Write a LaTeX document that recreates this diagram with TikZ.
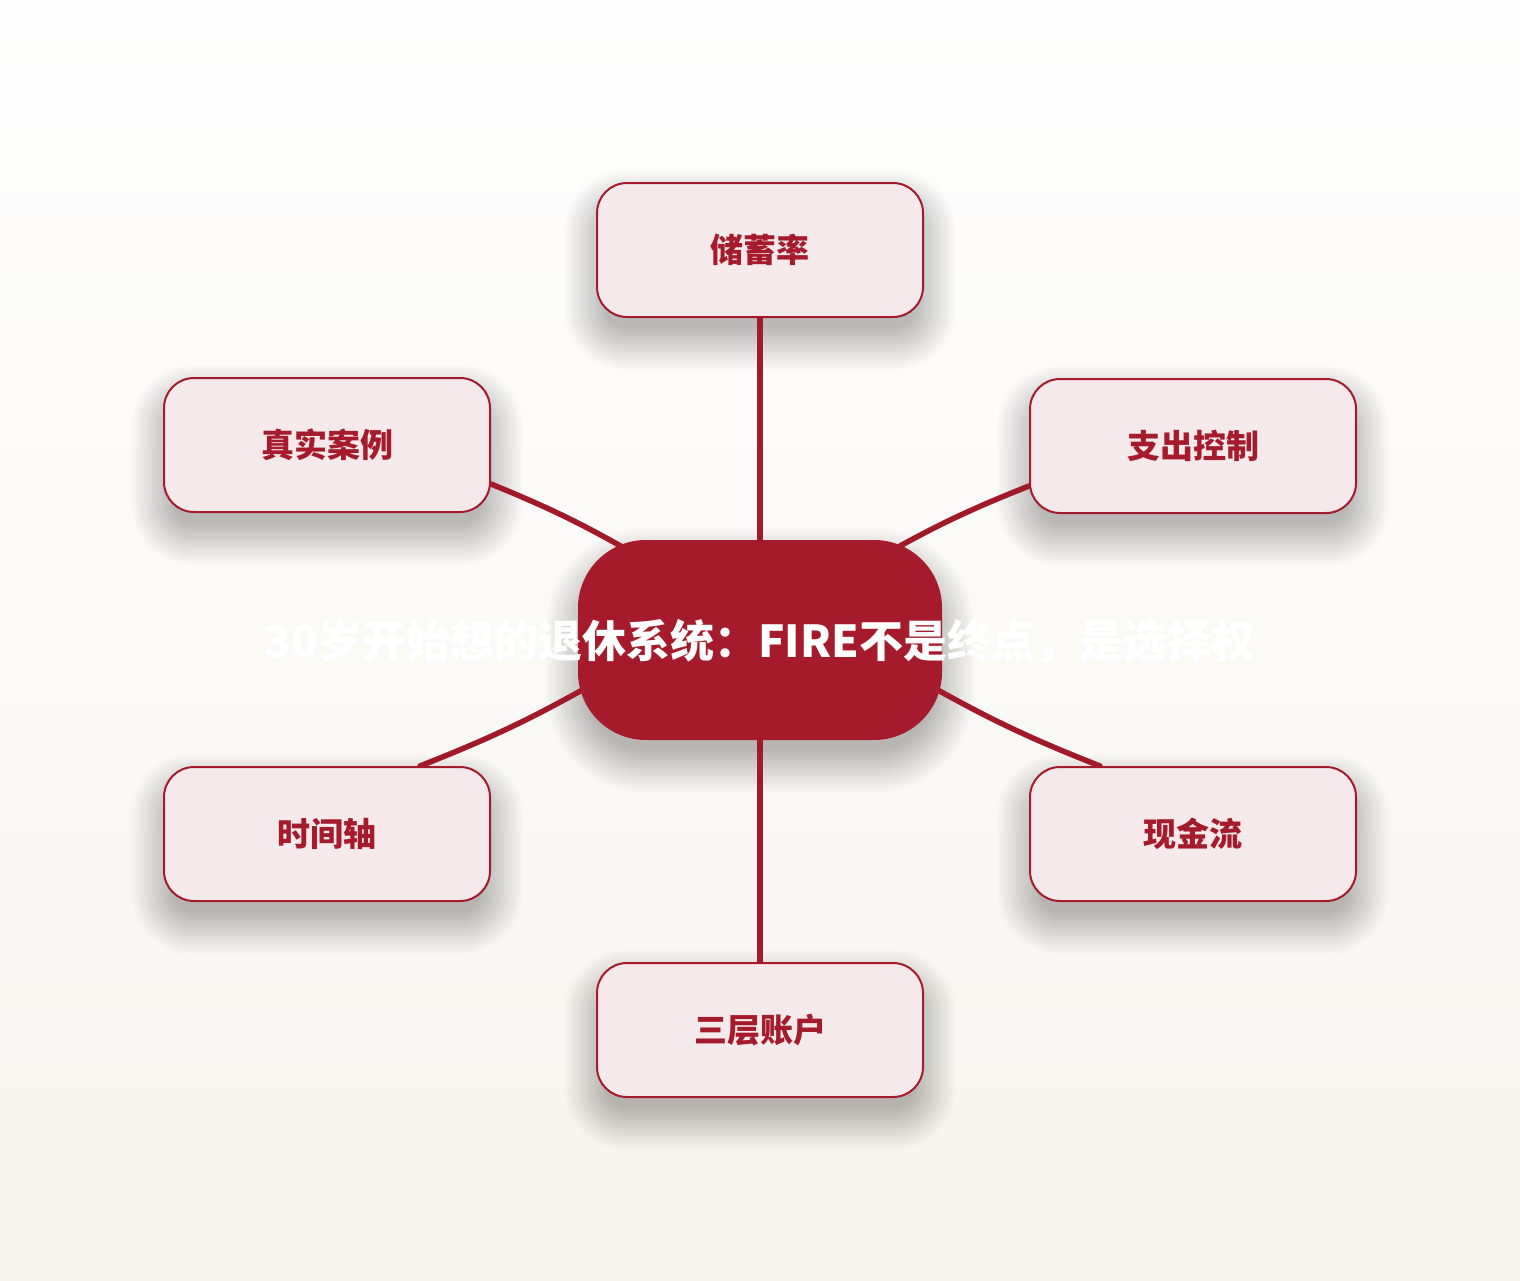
\documentclass[tikz,border=0pt]{standalone}
\usepackage{fontspec}
\setmainfont{Noto Sans CJK SC}
\usetikzlibrary{calc}
\definecolor{firered}{HTML}{A51B2B}
\definecolor{nodefill}{HTML}{F5E9EB}
\definecolor{linered}{HTML}{A01A2A}
\definecolor{bgtop}{HTML}{FEFEFE}
\definecolor{bgbot}{HTML}{F7F4EF}
\pgfdeclarelayer{bg}
\pgfdeclarelayer{shadowlayer}
\pgfdeclarelayer{lines}
\pgfsetlayers{bg,shadowlayer,lines,main}
\newcommand{\softshadow}[2]{%
  \begin{pgfonlayer}{shadowlayer}
  \foreach \k in {-10,-8,...,32}{
    \fill[black, opacity=0.010, rounded corners={(#2+\k)*1pt}]
      ($(#1.south west)+(-\k,20+\k)$) rectangle ($(#1.north east)+(\k,20-\k)$);
  }
  \end{pgfonlayer}}
\begin{document}
\begin{tikzpicture}[x=1pt,y=-1pt,
  topic/.style={draw=firered, line width=2pt, fill=nodefill, rounded corners=30pt,
    minimum width=326pt, minimum height=134pt, inner sep=0pt, text=firered,
    font=\fontsize{33}{40}\selectfont\bfseries},
  hub/.style={fill=firered, rounded corners=68pt, minimum width=364pt, minimum height=200pt, inner sep=0pt},
  hubtext/.style={text=white, font=\fontsize{44}{52}\selectfont\bfseries, inner sep=0pt},
  link/.style={draw=linered, line width=5.5pt, line cap=round}]
\begin{pgfonlayer}{bg}
  \shade[top color=bgtop, bottom color=bgbot] (0,0) rectangle (1520,1280);
\end{pgfonlayer}
\useasboundingbox (0,0) rectangle (1520,1280);
\node[hub] (c) at (760,640) {};
\node[hubtext] (ct) at (760,642) {30岁开始想的退休系统：FIRE不是终点，是选择权};
\node[topic] (s) at (760,250) {储蓄率};
\node[topic] (z) at (327,445) {真实案例};
\node[topic] (k) at (1193,446) {支出控制};
\node[topic] (t) at (327,834) {时间轴};
\node[topic] (x) at (1193,834) {现金流};
\node[topic] (a) at (760,1030) {三层账户};
\softshadow{c}{68}
\softshadow{s}{30}
\softshadow{z}{30}
\softshadow{k}{30}
\softshadow{t}{30}
\softshadow{x}{30}
\softshadow{a}{30}
\begin{pgfonlayer}{lines}
  \draw[link] (s.south) -- (c.center);
  \draw[link] (c.center) -- (a.north);
  \draw[link] ($(z.east)+(0,39)$) to[bend left=4] ($(c.center)+(-115,-80)$);
  \draw[link] ($(k.west)+(0,40)$) to[bend right=4] ($(c.center)+(115,-80)$);
  \draw[link] ($(t.north)+(93,0)$) to[bend right=4] ($(c.center)+(-160,40)$);
  \draw[link] ($(x.north)+(-93,0)$) to[bend left=4] ($(c.center)+(160,40)$);
\end{pgfonlayer}
\end{tikzpicture}
\end{document}
